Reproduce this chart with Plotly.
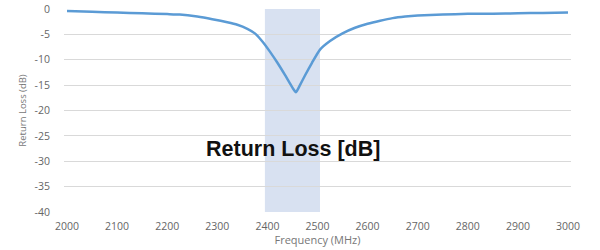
import plotly.graph_objects as go

freq_mhz = [2000, 2050, 2100, 2150, 2200, 2225, 2260, 2290, 2320, 2340, 2360, 2375,
            2390, 2405, 2420, 2435, 2450, 2457, 2465, 2475, 2489, 2505, 2525, 2550, 2575,
            2600, 2625, 2650, 2675, 2700, 2750, 2800, 2850, 2900, 2950, 3000]
return_loss_db = [-0.4, -0.55, -0.7, -0.85, -1.0, -1.1, -1.5, -2.0, -2.6, -3.1, -3.9, -4.8,
                  -6.4, -8.4, -10.6, -13.0, -15.5, -16.4, -15.0, -13.1, -10.6, -8.0, -6.3, -4.8, -3.7,
                  -2.9, -2.3, -1.8, -1.5, -1.3, -1.1, -0.95, -0.92, -0.85, -0.77, -0.7]
band_mhz = [2395, 2505]
x_ticks = [2000, 2100, 2200, 2300, 2400, 2500, 2600, 2700, 2800, 2900, 3000]
y_ticks = [0, -5, -10, -15, -20, -25, -30, -35, -40]
chart_label = "Return Loss [dB]"

fig = go.Figure()
fig.add_trace(go.Scatter(
    x=freq_mhz, y=return_loss_db, mode="lines",
    line=dict(color="#5B9BD5", width=2.5, shape="spline", smoothing=0.5),
    hoverinfo="skip", showlegend=False,
))

fig.add_shape(type="rect", xref="x", yref="paper",
              x0=band_mhz[0], x1=band_mhz[1], y0=0, y1=1,
              fillcolor="#D8E1F1", line=dict(width=0), layer="below")

fig.add_annotation(text="<b>" + chart_label + "</b>", xref="paper", yref="paper",
                   x=0.452, y=0.243, showarrow=False,
                   font=dict(family="Liberation Sans, Arial", size=21.5, color="#111111"))

tick_font = dict(family="Open Sans", size=10.5, color="#666666")
fig.update_layout(
    width=600, height=250,
    margin=dict(l=64, r=29, t=9, b=38),
    paper_bgcolor="white", plot_bgcolor="white",
    xaxis=dict(range=[1994, 3006], tickvals=x_ticks, ticktext=[str(v) for v in x_ticks],
               showgrid=False, zeroline=False, showline=False, automargin=False,
               tickfont=tick_font, ticks="", ticklabelstandoff=6,
               title=dict(text="Frequency (MHz)", font=dict(family="Open Sans", size=11, color="#777777"),
                          standoff=4)),
    yaxis=dict(range=[-40, 0], tickvals=y_ticks, ticktext=[str(v) for v in y_ticks],
               showgrid=True, gridcolor="#D9D9D9", gridwidth=1, zeroline=False, showline=False,
               automargin=False,
               tickfont=tick_font, ticks="", ticklabelstandoff=13,
               title=dict(text="Return Loss (dB)", font=dict(family="Open Sans", size=9.5, color="#777777"),
                          standoff=6)),
)

fig.write_html("out.html")
